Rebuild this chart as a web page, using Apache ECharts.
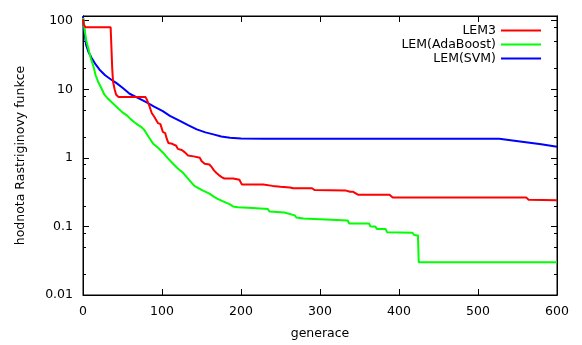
<!DOCTYPE html>
<html>
<head>
<meta charset="utf-8">
<script src="https://cdn.jsdelivr.net/npm/echarts@6/dist/echarts.min.js"></script>
<style>
html,body{margin:0;padding:0;background:#fff;}
#chart{width:582px;height:345px;}
</style>
</head>
<body>
<div id="chart"></div>
<script>
// ---- data ----
const xTicks = [0, 100, 200, 300, 400, 500, 600];
const yMajorTicks = [0.01, 0.1, 1, 10, 100];
const yMinorTicks = [0.02, 0.05, 0.08, 0.2, 0.5, 0.8, 2, 5, 8, 20, 50, 80];

const lem3Gen = [0,1,3,35,36,37,38,40,42,45,79,81,84,87,90,95,98,101,104,106,108,113,118,120,125,129,133,140,148,150,154,160,163,166,169,172,176,179,190,198,200,201,228,240,250,262,266,290,293,332,338,342,344,348,388,392,561,564,600];
const lem3Val = [105,88,80,80,40,20,13,10,8.3,7.7,7.7,7,5.7,4.5,4,3.2,3.1,2.4,2.3,1.9,1.65,1.6,1.5,1.35,1.3,1.2,1.08,1.05,1.0,0.9,0.82,0.8,0.73,0.65,0.6,0.56,0.52,0.5,0.5,0.48,0.46,0.41,0.41,0.39,0.38,0.37,0.36,0.36,0.34,0.335,0.32,0.32,0.3,0.29,0.29,0.265,0.265,0.245,0.24];

const adaGen = [0,2,4,7,10,13,16,19,23,27,32,38,45,50,55,60,65,70,74,77,80,84,89,95,101,107,114,120,127,134,141,150,160,166,171,178,186,190,196,215,234,236,255,257,268,270,279,281,335,337,362,364,370,372,383,385,417,419,424,425,600];
const adaVal = [110,75,52,38,28,22,16,13,10.5,8.4,7.2,6.2,5.2,4.6,4.2,3.7,3.3,3.0,2.8,2.6,2.3,1.95,1.6,1.4,1.2,1.0,0.82,0.7,0.6,0.48,0.39,0.34,0.3,0.27,0.25,0.23,0.21,0.195,0.19,0.185,0.18,0.165,0.16,0.15,0.145,0.135,0.13,0.122,0.122,0.11,0.11,0.1,0.1,0.092,0.092,0.082,0.081,0.075,0.074,0.03,0.03];

const svmGen = [0,2,4,7,11,16,21,28,35,42,50,59,70,80,90,101,110,122,133,144,155,165,175,186,200,230,300,527,546,563,580,600];
const svmVal = [115,65,44,35,28.5,23,19.3,16,14,12.4,10.5,8.6,7.4,6.5,5.6,4.8,4.1,3.5,3.0,2.6,2.35,2.2,2.05,1.96,1.92,1.9,1.9,1.9,1.78,1.68,1.58,1.45];

const seriesNames = ['LEM3', 'LEM(AdaBoost)', 'LEM(SVM)'];
const seriesColors = ['#ff0000', '#00ff00', '#0000ff'];

// ---- chart ----
function pairs(xs, ys) { return xs.map((x, i) => [x, ys[i]]); }
const allData = [pairs(lem3Gen, lem3Val), pairs(adaGen, adaVal), pairs(svmGen, svmVal)];

const font = 'DejaVu Sans';
const fs = 12.5;
const yMin = 0.01, yMax = 117;

function yAxisDef(pos, custom, len, labels) {
  return {
    type: 'log', logBase: 10, min: yMin, max: yMax, position: pos,
    axisLine: { show: true, onZero: false, lineStyle: { color: '#000', width: 1 } },
    axisTick: { show: true, inside: true, length: len, customValues: custom, lineStyle: { color: '#000', width: 1 } },
    axisLabel: labels ? { show: true, customValues: yMajorTicks, margin: 10, color: '#000', fontFamily: font, fontSize: fs,
      formatter: v => String(v) } : { show: false },
    splitLine: { show: false }
  };
}

const chart = echarts.init(document.getElementById('chart'), null, { renderer: 'canvas' });
chart.setOption({
  animation: false,
  backgroundColor: '#fff',
  grid: { left: 83, right: 25, top: 16, bottom: 48, show: true, borderColor: '#000', borderWidth: 1, backgroundColor: 'transparent' },
  legend: {
    orient: 'vertical', right: 35, top: 19, align: 'right',
    itemWidth: 40, itemHeight: 14, itemGap: 1,
    itemStyle: { opacity: 0, color: 'rgba(0,0,0,0)', borderWidth: 0 },
    textStyle: { color: '#000', fontFamily: font, fontSize: fs },
    data: seriesNames
  },
  xAxis: [
    {
      type: 'value', min: 0, max: 600, interval: 100, position: 'bottom',
      name: 'generace', nameLocation: 'middle', nameGap: 32,
      nameTextStyle: { color: '#000', fontFamily: font, fontSize: fs },
      axisLine: { show: true, onZero: false, lineStyle: { color: '#000' } },
      axisTick: { show: true, inside: true, length: 6, lineStyle: { color: '#000' } },
      axisLabel: { color: '#000', fontFamily: font, fontSize: fs, margin: 10 },
      splitLine: { show: false }
    },
    {
      type: 'value', min: 0, max: 600, interval: 100, position: 'top',
      axisLine: { show: true, onZero: false, lineStyle: { color: '#000' } },
      axisTick: { show: true, inside: true, length: 6, lineStyle: { color: '#000' } },
      axisLabel: { show: false },
      splitLine: { show: false }
    }
  ],
  yAxis: [
    Object.assign(yAxisDef('left', yMajorTicks, 6, true), {
      name: 'hodnota Rastriginovy funkce', nameLocation: 'middle', nameRotate: 90, nameGap: 56,
      nameTextStyle: { color: '#000', fontFamily: font, fontSize: fs }
    }),
    yAxisDef('left', yMinorTicks, 3, false),
    yAxisDef('right', yMajorTicks, 6, false),
    yAxisDef('right', yMinorTicks, 3, false)
  ],
  series: allData.map((d, i) => ({
    name: seriesNames[i], type: 'line', data: d, xAxisIndex: 0, yAxisIndex: 0,
    symbol: 'none', showSymbol: false, smooth: false,
    lineStyle: { color: seriesColors[i], width: 2 },
    itemStyle: { color: seriesColors[i] },
    z: 5 - i
  }))
});
</script>
</body>
</html>
